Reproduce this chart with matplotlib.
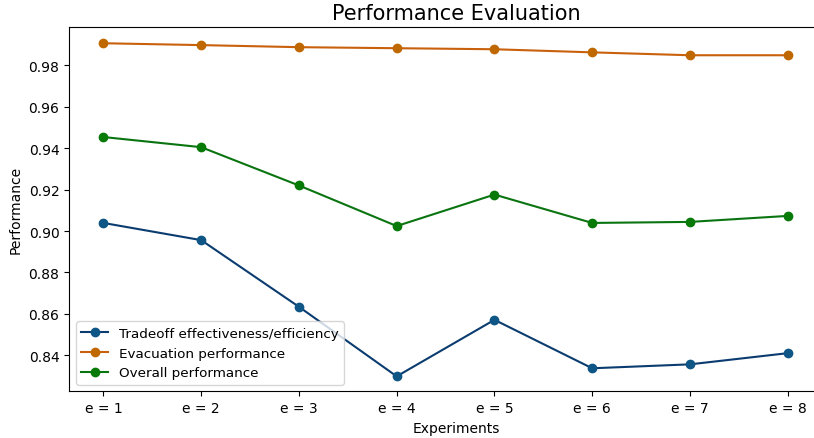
from matplotlib import pyplot as plt

experiments = ["e = 1", "e = 2", "e = 3", "e = 4", "e = 5", "e = 6", "e = 7", "e = 8"]

tradeoff = [0.9039, 0.8956, 0.8634, 0.8298, 0.8571, 0.8337, 0.8356, 0.8410]
evacuation = [0.9907, 0.9898, 0.9888, 0.9883, 0.9878, 0.9863, 0.9849, 0.9849]
overall = [0.9454, 0.9405, 0.9220, 0.9024, 0.9176, 0.9039, 0.9044, 0.9073]

fig = plt.figure(figsize=(8.14, 4.39), dpi=100)
# axes run past the right edge of the figure
ax = fig.add_axes([0.085, 0.106, 0.95, 0.83])

ax.plot(experiments, tradeoff, marker="o", color="#0b3c70",
        markerfacecolor="#0e5686", markeredgecolor="#0e5686",
        label="Tradeoff effectiveness/efficiency")
ax.plot(experiments, evacuation, marker="o", color="#c8600c",
        markerfacecolor="#c06800", markeredgecolor="#c06800",
        label="Evacuation performance")
ax.plot(experiments, overall, marker="o", color="#0a7410",
        markerfacecolor="#087a08", markeredgecolor="#087a08",
        label="Overall performance")

ax.set_title("Performance Evaluation", fontsize=15)
ax.set_xlabel("Experiments", fontsize=10)
ax.set_ylabel("Performance", fontsize=10)
ax.tick_params(labelsize=10)
ax.set_xlim(-0.35, 7.56)
ax.set_yticks([0.84, 0.86, 0.88, 0.90, 0.92, 0.94, 0.96, 0.98])
ax.set_ylim(0.8225, 0.9985)
ax.spines["right"].set_visible(False)
ax.legend(loc="lower left", fontsize=9.7)

plt.savefig("out.png")
